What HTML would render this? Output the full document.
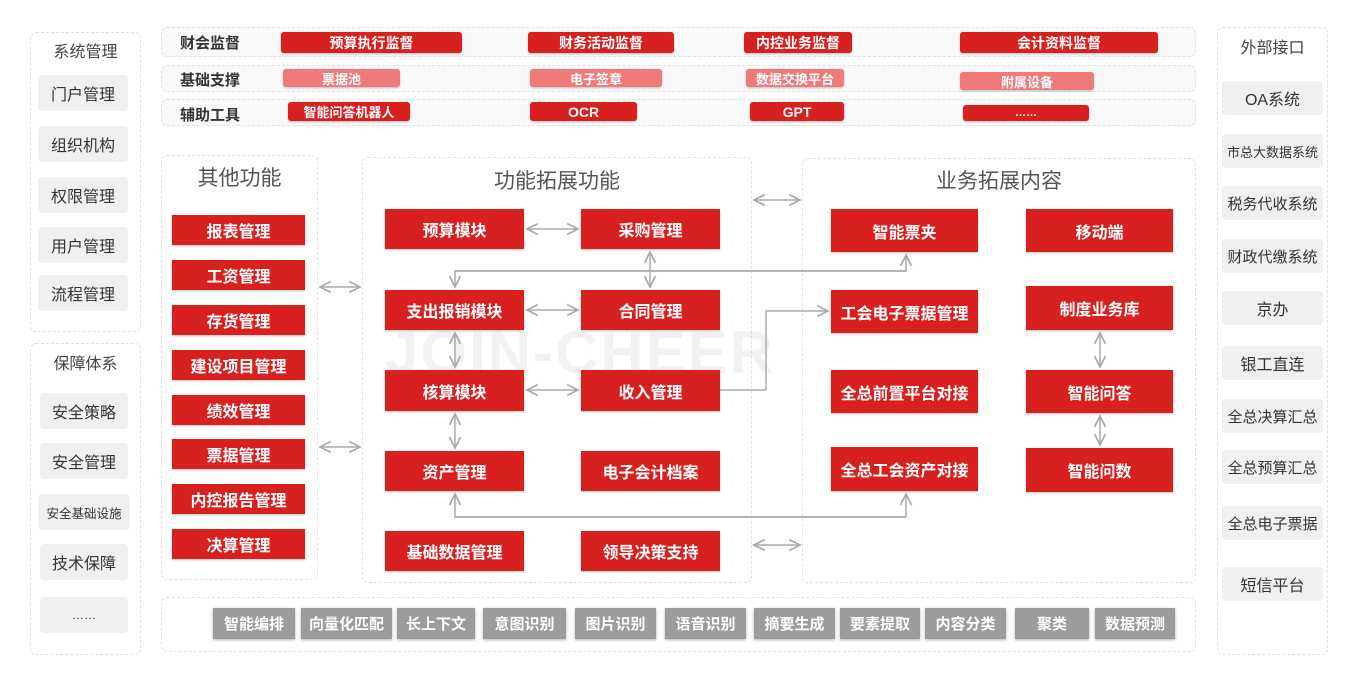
<!DOCTYPE html>
<html><head><meta charset="utf-8"><style>
*{margin:0;padding:0;box-sizing:border-box}
body{width:1356px;height:676px;background:#fff;position:relative;overflow:hidden;font-family:"Liberation Sans","Noto Sans CJK SC",sans-serif}
.a{position:absolute}
.panel{position:absolute;border:1px dashed #e2e2e2;border-radius:6px;background:#fff}
.g{position:absolute;background:#f0f0f0;border-radius:4px;display:flex;align-items:center;justify-content:center;color:#333;font-size:16px;white-space:nowrap}
.r{position:absolute;background:#d8201f;color:#fff;font-weight:bold;display:flex;align-items:center;justify-content:center;font-size:16px;white-space:nowrap;box-shadow:0 1px 2px rgba(0,0,0,.25)}
.p{background:#f07a7a;font-size:13px;border-radius:3px}
.t{border-radius:3px;font-size:14px}
.gg{position:absolute;background:#9c9c9c;color:#fff;font-weight:bold;font-size:15px;display:flex;align-items:center;justify-content:center;box-shadow:0 1px 3px rgba(0,0,0,.3);top:608px;height:31px}
.ttl{position:absolute;color:#444;font-size:16px;text-align:center}
.h{position:absolute;color:#555;font-size:21px;text-align:center}
.lb{position:absolute;font-size:15px;font-weight:bold;color:#333}
</style></head><body>
<!-- left panels -->
<div class="panel" style="left:30px;top:32px;width:111px;height:300px"></div>
<div class="ttl" style="left:30px;top:38px;width:111px">系统管理</div>
<div class="g" style="left:38px;top:75px;width:90px;height:36px">门户管理</div>
<div class="g" style="left:38px;top:126px;width:90px;height:36px">组织机构</div>
<div class="g" style="left:38px;top:177px;width:90px;height:36px">权限管理</div>
<div class="g" style="left:38px;top:227px;width:90px;height:36px">用户管理</div>
<div class="g" style="left:38px;top:275px;width:90px;height:36px">流程管理</div>
<div class="panel" style="left:30px;top:343px;width:111px;height:312px"></div>
<div class="ttl" style="left:30px;top:350px;width:111px">保障体系</div>
<div class="g" style="left:40px;top:393px;width:88px;height:36px">安全策略</div>
<div class="g" style="left:40px;top:443px;width:88px;height:36px">安全管理</div>
<div class="g" style="left:38px;top:494px;width:92px;height:36px;font-size:12.5px">安全基础设施</div>
<div class="g" style="left:40px;top:544px;width:88px;height:36px">技术保障</div>
<div class="g" style="left:40px;top:597px;width:88px;height:36px;font-size:12px">……</div>
<!-- right panel -->
<div class="panel" style="left:1217px;top:27px;width:111px;height:628px"></div>
<div class="ttl" style="left:1217px;top:34px;width:111px">外部接口</div>
<div class="g" style="left:1222px;top:81px;width:101px;height:34px">OA系统</div>
<div class="g" style="left:1222px;top:134px;width:101px;height:34px;font-size:13px">市总大数据系统</div>
<div class="g" style="left:1222px;top:186px;width:101px;height:34px;font-size:15px">税务代收系统</div>
<div class="g" style="left:1222px;top:239px;width:101px;height:34px;font-size:15px">财政代缴系统</div>
<div class="g" style="left:1222px;top:291px;width:101px;height:34px">京办</div>
<div class="g" style="left:1222px;top:346px;width:101px;height:34px">银工直连</div>
<div class="g" style="left:1222px;top:399px;width:101px;height:34px;font-size:15px">全总决算汇总</div>
<div class="g" style="left:1222px;top:450px;width:101px;height:34px;font-size:15px">全总预算汇总</div>
<div class="g" style="left:1222px;top:506px;width:101px;height:34px;font-size:15px">全总电子票据</div>
<div class="g" style="left:1222px;top:567px;width:101px;height:34px">短信平台</div>
<!-- top rows -->
<div class="panel" style="left:161px;top:27px;width:1035px;height:30px;background:#f9f9f9"></div>
<div class="panel" style="left:161px;top:65px;width:1035px;height:27px;background:#f9f9f9"></div>
<div class="panel" style="left:161px;top:99px;width:1035px;height:27px;background:#f9f9f9"></div>
<div class="lb" style="left:180px;top:32px">财会监督</div>
<div class="lb" style="left:180px;top:69px">基础支撑</div>
<div class="lb" style="left:180px;top:104px">辅助工具</div>
<div class="r t" style="left:281px;top:32px;width:181px;height:21px">预算执行监督</div>
<div class="r t" style="left:528px;top:32px;width:146px;height:21px">财务活动监督</div>
<div class="r t" style="left:744px;top:32px;width:108px;height:21px">内控业务监督</div>
<div class="r t" style="left:960px;top:32px;width:198px;height:21px">会计资料监督</div>
<div class="r p" style="left:283px;top:69px;width:117px;height:18px">票据池</div>
<div class="r p" style="left:530px;top:69px;width:132px;height:18px">电子签章</div>
<div class="r p" style="left:746px;top:69px;width:98px;height:18px">数据交换平台</div>
<div class="r p" style="left:960px;top:72px;width:134px;height:18px">附属设备</div>
<div class="r t" style="left:288px;top:102px;width:122px;height:19px;font-size:13px">智能问答机器人</div>
<div class="r t" style="left:530px;top:102px;width:107px;height:19px">OCR</div>
<div class="r t" style="left:750px;top:102px;width:94px;height:19px">GPT</div>
<div class="r t" style="left:963px;top:105px;width:126px;height:16px;font-size:11px">……</div>
<!-- panels -->
<div class="panel" style="left:161px;top:155px;width:157px;height:425px"></div>
<div class="panel" style="left:362px;top:157px;width:390px;height:426px"></div>
<div class="panel" style="left:802px;top:158px;width:394px;height:425px"></div>
<div class="h" style="left:161px;top:162px;width:157px">其他功能</div>
<div class="h" style="left:362px;top:165px;width:390px">功能拓展功能</div>
<div class="h" style="left:802px;top:165px;width:394px">业务拓展内容</div>
<div style="position:absolute;left:385px;top:318px;font-size:60px;font-weight:bold;color:rgba(0,0,0,0.05);letter-spacing:2px">JOIN-CHEER</div>
<!-- other -->
<div class="r" style="left:172px;top:215px;width:133px;height:30px">报表管理</div>
<div class="r" style="left:172px;top:260px;width:133px;height:30px">工资管理</div>
<div class="r" style="left:172px;top:305px;width:133px;height:30px">存货管理</div>
<div class="r" style="left:172px;top:350px;width:133px;height:30px">建设项目管理</div>
<div class="r" style="left:172px;top:395px;width:133px;height:30px">绩效管理</div>
<div class="r" style="left:172px;top:439px;width:133px;height:30px">票据管理</div>
<div class="r" style="left:172px;top:484px;width:133px;height:30px">内控报告管理</div>
<div class="r" style="left:172px;top:529px;width:133px;height:30px">决算管理</div>
<!-- middle -->
<div class="r" style="left:385px;top:209px;width:139px;height:40px">预算模块</div>
<div class="r" style="left:581px;top:209px;width:139px;height:40px">采购管理</div>
<div class="r" style="left:385px;top:290px;width:139px;height:40px">支出报销模块</div>
<div class="r" style="left:581px;top:290px;width:139px;height:40px">合同管理</div>
<div class="r" style="left:385px;top:370px;width:139px;height:41px">核算模块</div>
<div class="r" style="left:581px;top:370px;width:139px;height:41px">收入管理</div>
<div class="r" style="left:385px;top:451px;width:139px;height:40px">资产管理</div>
<div class="r" style="left:581px;top:451px;width:139px;height:40px">电子会计档案</div>
<div class="r" style="left:385px;top:531px;width:139px;height:40px">基础数据管理</div>
<div class="r" style="left:581px;top:531px;width:139px;height:40px">领导决策支持</div>
<!-- right -->
<div class="r" style="left:831px;top:209px;width:147px;height:43px">智能票夹</div>
<div class="r" style="left:1026px;top:209px;width:147px;height:43px">移动端</div>
<div class="r" style="left:831px;top:290px;width:147px;height:43px">工会电子票据管理</div>
<div class="r" style="left:1026px;top:286px;width:147px;height:44px">制度业务库</div>
<div class="r" style="left:831px;top:370px;width:147px;height:43px">全总前置平台对接</div>
<div class="r" style="left:1026px;top:370px;width:147px;height:43px">智能问答</div>
<div class="r" style="left:831px;top:447px;width:147px;height:44px">全总工会资产对接</div>
<div class="r" style="left:1026px;top:448px;width:147px;height:44px">智能问数</div>
<!-- bottom -->
<div class="panel" style="left:161px;top:597px;width:1035px;height:55px"></div>
<div class="gg" style="left:213px;width:82px">智能编排</div>
<div class="gg" style="left:301px;width:91px">向量化匹配</div>
<div class="gg" style="left:397px;width:78px">长上下文</div>
<div class="gg" style="left:483px;width:83px">意图识别</div>
<div class="gg" style="left:575px;width:81px">图片识别</div>
<div class="gg" style="left:665px;width:81px">语音识别</div>
<div class="gg" style="left:754px;width:81px">摘要生成</div>
<div class="gg" style="left:840px;width:80px">要素提取</div>
<div class="gg" style="left:925px;width:81px">内容分类</div>
<div class="gg" style="left:1015px;width:74px">聚类</div>
<div class="gg" style="left:1095px;width:80px">数据预测</div>
<svg class="a" style="left:0;top:0" width="1356" height="676" fill="none" stroke="#aaa" stroke-width="1.5">
<defs><marker id="m" viewBox="0 0 10 10" refX="9" refY="5" markerWidth="9" markerHeight="9" orient="auto-start-reverse"><path d="M1 1L9 5L1 9" fill="none" stroke="#aaa" stroke-width="1.3"/></marker></defs>
<g marker-start="url(#m)" marker-end="url(#m)">
<line x1="527" y1="229" x2="578" y2="229"/>
<line x1="527" y1="310" x2="578" y2="310"/>
<line x1="527" y1="390" x2="578" y2="390"/>
<line x1="650" y1="252" x2="650" y2="287"/>
<line x1="455" y1="333" x2="455" y2="367"/>
<line x1="455" y1="414" x2="455" y2="448"/>
<line x1="1100" y1="333" x2="1100" y2="367"/>
<line x1="1100" y1="416" x2="1100" y2="445"/>
<line x1="320" y1="287" x2="360" y2="287"/>
<line x1="320" y1="447" x2="360" y2="447"/>
<line x1="754" y1="200" x2="800" y2="200"/>
<line x1="754" y1="545" x2="800" y2="545"/>
</g>
<g marker-end="url(#m)">
<polyline points="906,271 455,271 455,287"/>
<polyline points="455,271 906,271 906,255"/>
<polyline points="720,390 766,390 766,311 828,311"/>
<polyline points="906,517 455,517 455,494"/>
<polyline points="455,517 906,517 906,494"/>
</g>
</svg>
</body></html>
